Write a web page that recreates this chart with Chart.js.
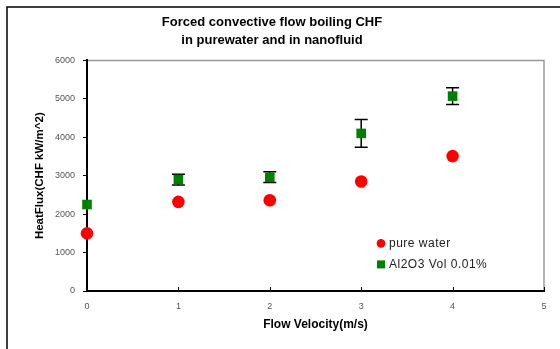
<!DOCTYPE html>
<html>
<head>
<meta charset="utf-8">
<script src="https://cdn.jsdelivr.net/npm/chart.js@4/dist/chart.umd.min.js"></script>
<style>
html,body{margin:0;padding:0;background:#fff;}
#c{display:block;}
</style>
</head>
<body>
<canvas id="c" width="560" height="349"></canvas>
<script>
const velocity = [0, 1, 2, 3, 4];
const pureWater = [1500, 2320, 2360, 2850, 3510];
const al2o3 = [2250, 2900, 2960, 4100, 5070];
const al2o3Err = [null, 140, 140, 360, 220];
const xTicks = [0, 1, 2, 3, 4, 5];
const yTicks = [0, 1000, 2000, 3000, 4000, 5000, 6000];
const titleLines = ['Forced convective flow boiling CHF', 'in purewater and in nanofluid'];
const seriesNames = ['pure water', 'Al2O3 Vol 0.01%'];

const FONT = "'Liberation Sans', Arial, sans-serif";

const framePlugin = {
  id: 'frame',
  beforeDraw(chart) {
    const ctx = chart.ctx;
    ctx.save();
    ctx.fillStyle = '#fff';
    ctx.fillRect(0, 0, chart.width, chart.height);
    ctx.strokeStyle = '#000';
    ctx.lineWidth = 1.5;
    ctx.beginPath();
    ctx.moveTo(7, chart.height);
    ctx.lineTo(7, 7);
    ctx.lineTo(chart.width, 7);
    ctx.stroke();
    const a = chart.chartArea;
    ctx.strokeStyle = '#9a9a9a';
    ctx.lineWidth = 1.5;
    ctx.beginPath();
    ctx.moveTo(a.left, a.top);
    ctx.lineTo(a.right, a.top);
    ctx.lineTo(a.right, a.bottom);
    ctx.stroke();
    ctx.restore();
  },
  afterDraw(chart) {
    const ctx = chart.ctx;
    const xs = chart.scales.x;
    const a = chart.chartArea;
    ctx.save();
    ctx.strokeStyle = '#000';
    ctx.lineWidth = 1;
    xs.ticks.forEach(t => {
      const px = Math.round(xs.getPixelForValue(t.value)) + 0.5;
      ctx.beginPath();
      ctx.moveTo(px, a.bottom);
      ctx.lineTo(px, a.bottom - 4);
      ctx.stroke();
    });
    const ds = chart.data.datasets;
    ctx.font = '12px ' + FONT;
    ctx.letterSpacing = '0.5px';
    ctx.textBaseline = 'middle';
    const lx = a.left + 294, ly0 = a.top + 183, dy = 21;
    ds.forEach((d, i) => {
      const y = ly0 + i * dy;
      ctx.fillStyle = d.backgroundColor;
      if (d.pointStyle === 'rect') {
        ctx.fillRect(lx - 4, y - 4, 8, 8);
      } else {
        ctx.beginPath();
        ctx.arc(lx, y, 4.3, 0, Math.PI * 2);
        ctx.fill();
      }
      ctx.fillStyle = '#222';
      ctx.fillText(d.label, lx + 8, y + 0.5);
    });
    ctx.restore();
  }
};

const errorBarPlugin = {
  id: 'errbars',
  beforeDatasetsDraw(chart) {
    const ctx = chart.ctx;
    const xs = chart.scales.x, ys = chart.scales.y;
    ctx.save();
    ctx.strokeStyle = '#000';
    ctx.lineWidth = 1.5;
    velocity.forEach((v, i) => {
      const e = al2o3Err[i];
      if (e == null) return;
      const px = xs.getPixelForValue(v);
      const top = ys.getPixelForValue(al2o3[i] + e);
      const bot = ys.getPixelForValue(al2o3[i] - e);
      ctx.beginPath();
      ctx.moveTo(px, top); ctx.lineTo(px, bot);
      ctx.moveTo(px - 6.5, top); ctx.lineTo(px + 6.5, top);
      ctx.moveTo(px - 6.5, bot); ctx.lineTo(px + 6.5, bot);
      ctx.stroke();
    });
    ctx.restore();
  }
};

new Chart(document.getElementById('c'), {
  type: 'scatter',
  data: {
    datasets: [
      {
        label: seriesNames[0],
        data: velocity.map((x, i) => ({x, y: pureWater[i]})),
        backgroundColor: '#ff0000',
        borderColor: '#ff0000',
        borderWidth: 0,
        pointStyle: 'circle',
        pointRadius: 6.3,
        clip: false
      },
      {
        label: seriesNames[1],
        data: velocity.map((x, i) => ({x, y: al2o3[i]})),
        backgroundColor: '#008000',
        borderColor: '#008000',
        borderWidth: 0,
        pointStyle: 'rect',
        pointRadius: 6.8,
        clip: false
      }
    ]
  },
  options: {
    responsive: false,
    animation: false,
    devicePixelRatio: 1,
    layout: { padding: { left: 0, right: 16, top: 0, bottom: 0 } },
    plugins: {
      legend: { display: false },
      tooltip: { enabled: false },
      title: {
        display: true,
        text: titleLines,
        color: '#000',
        font: { family: FONT, size: 13, weight: 'bold', lineHeight: 1.4 },
        padding: { top: 13, bottom: 11 }
      }
    },
    scales: {
      x: {
        type: 'linear',
        min: 0, max: 5,
        afterBuildTicks: s => { s.ticks = xTicks.map(v => ({value: v})); },
        afterFit: s => { s.height = 58; },
        grid: { display: true, drawOnChartArea: false, drawTicks: false, tickLength: 0 },
        border: { display: true, color: '#000', width: 2 },
        ticks: { color: '#555', font: { family: FONT, size: 9 }, padding: 10, callback: v => String(v) },
        title: {
          display: true, text: 'Flow Velocity(m/s)', color: '#000',
          font: { family: FONT, size: 12, weight: 'bold' },
          padding: { top: 0, bottom: 17 }
        }
      },
      y: {
        type: 'linear',
        min: 0, max: 6000,
        afterBuildTicks: s => { s.ticks = yTicks.map(v => ({value: v})); },
        afterFit: s => { s.width = 87; },
        grid: { display: true, drawOnChartArea: false, drawTicks: true, tickLength: 4, color: '#000' },
        border: { display: true, color: '#000', width: 2 },
        ticks: { color: '#555', font: { family: FONT, size: 9 }, padding: 8, callback: v => String(v) },
        title: {
          display: true, text: 'HeatFlux(CHF kW/m^2)', color: '#000',
          font: { family: FONT, size: 11.5, weight: 'bold' },
          padding: { top: 33, bottom: 0 }
        }
      }
    }
  },
  plugins: [framePlugin, errorBarPlugin]
});
</script>
</body>
</html>
